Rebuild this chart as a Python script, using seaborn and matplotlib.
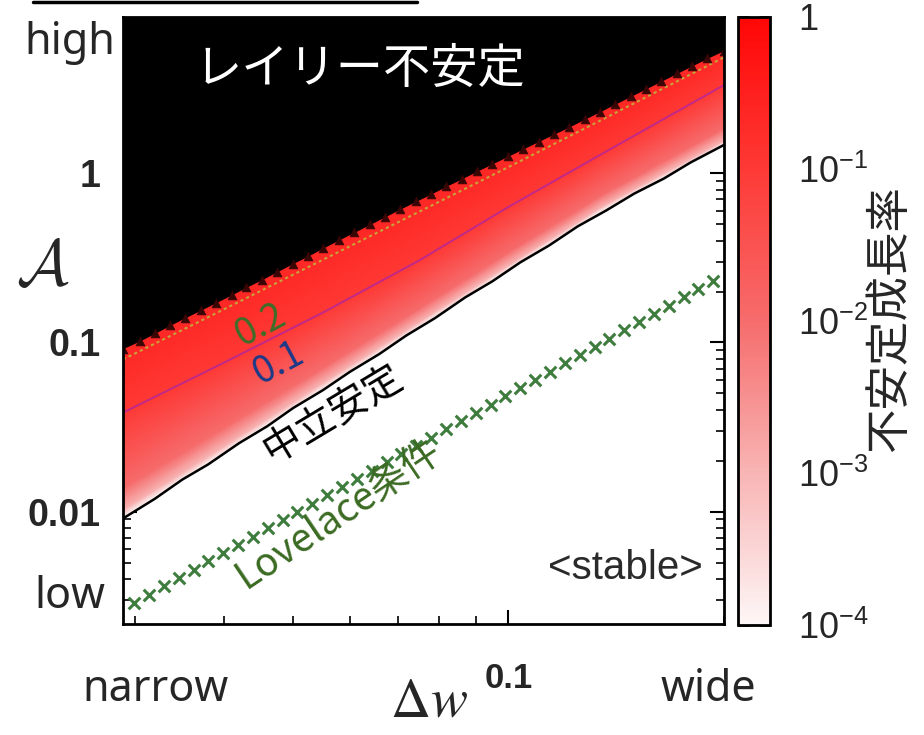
import numpy as np
import pandas as pd
import matplotlib
matplotlib.use("Agg")
import matplotlib.pyplot as plt
import seaborn as sns
from matplotlib.colors import LogNorm, LinearSegmentedColormap
from matplotlib.ticker import LogLocator, NullFormatter
from matplotlib.lines import Line2D

# ---------------- data ----------------
# Rayleigh-unstable boundary (triangles)
rayleigh_dw = [0.0289, 0.0305, 0.0320, 0.0336, 0.0353, 0.0371, 0.0390, 0.0410, 0.0430, 0.0452,
               0.0475, 0.0499, 0.0525, 0.0551, 0.0579, 0.0609, 0.0640, 0.0672, 0.0706, 0.0742,
               0.0780, 0.0819, 0.0861, 0.0904, 0.0950, 0.0998, 0.1049, 0.1102, 0.1158, 0.1217,
               0.1278, 0.1343, 0.1411, 0.1483, 0.1558, 0.1637, 0.1720, 0.1807, 0.1899, 0.2003]
rayleigh_A = [0.092, 0.102, 0.113, 0.126, 0.140, 0.155, 0.172, 0.191, 0.212, 0.235,
              0.262, 0.292, 0.325, 0.362, 0.403, 0.448, 0.498, 0.553, 0.614, 0.681,
              0.755, 0.838, 0.928, 1.028, 1.137, 1.258, 1.392, 1.540, 1.700, 1.880,
              2.082, 2.310, 2.563, 2.844, 3.155, 3.501, 3.885, 4.310, 4.782, 5.307]

# neutral stability line
neutral_dw = [0.029, 0.032, 0.035, 0.038, 0.042, 0.046, 0.050, 0.055, 0.060, 0.066, 0.072,
              0.079, 0.087, 0.095, 0.104, 0.114, 0.125, 0.137, 0.150, 0.165, 0.180, 0.200]
neutral_A = [0.0092, 0.0119, 0.0155, 0.0190, 0.0254, 0.0320, 0.0410, 0.0522, 0.0670, 0.0855, 0.1100,
             0.1395, 0.1845, 0.2300, 0.2980, 0.3740, 0.4850, 0.6020, 0.7580, 0.9300, 1.1600, 1.4650]

# Lovelace condition (crosses)
lovelace_dw = [0.02995, 0.03142, 0.03296, 0.03457, 0.03627, 0.03804, 0.03991, 0.04186, 0.04391, 0.04607,
               0.04832, 0.05069, 0.05318, 0.05578, 0.05852, 0.06139, 0.06439, 0.06755, 0.07086, 0.07433,
               0.07798, 0.08180, 0.08581, 0.09001, 0.09442, 0.09905, 0.1039, 0.1090, 0.1143, 0.1199,
               0.1258, 0.1320, 0.1385, 0.1452, 0.1524, 0.1598, 0.1677, 0.1759, 0.1845, 0.1936]
lovelace_A = [0.00290, 0.00324, 0.00363, 0.00406, 0.00454, 0.00508, 0.00568, 0.00636, 0.00711, 0.00796,
              0.00890, 0.00996, 0.01115, 0.01247, 0.01395, 0.01561, 0.01747, 0.01955, 0.02187, 0.02447,
              0.02738, 0.03064, 0.03428, 0.03836, 0.04292, 0.04802, 0.05373, 0.06012, 0.06727, 0.07527,
              0.08422, 0.09423, 0.1054, 0.1180, 0.1320, 0.1477, 0.1653, 0.1849, 0.2069, 0.2315]

# growth-rate field: A positions of growth-rate levels at several Δw columns
field_dw = [0.0289, 0.04, 0.055, 0.075, 0.1, 0.135, 0.2003]
field_levels = [1e-4, 1e-3, 1e-2, 0.1, 0.2, 0.25]
A_g1e4 = [0.0092, 0.0221, 0.0527, 0.122, 0.267, 0.593, 1.466]
A_g1e3 = [0.0102, 0.0243, 0.0575, 0.132, 0.286, 0.632, 1.56]
A_g1e2 = [0.0137, 0.0312, 0.0705, 0.158, 0.340, 0.740, 1.84]
A_g01 = [0.0385, 0.0760, 0.150, 0.305, 0.632, 1.297, 3.32]
A_g02 = [0.0794, 0.157, 0.308, 0.592, 1.087, 2.065, 4.84]
A_gtop = [0.12, 0.22, 0.42, 0.80, 1.5, 2.9, 7.0]

y_ticks = [0.01, 0.1, 1]
y_ticklabels = ["0.01", "0.1", "1"]
x_ticks = [0.1]
x_ticklabels = ["0.1"]
cbar_ticks = [1e-4, 1e-3, 1e-2, 1e-1, 1]
cbar_ticklabels = [r"$\mathregular{10^{-4}}$", r"$\mathregular{10^{-3}}$",
                   r"$\mathregular{10^{-2}}$", r"$\mathregular{10^{-1}}$", "1"]

# ---------------- style ----------------
sns.set_style("ticks")
plt.rcParams["font.family"] = ["Noto Sans", "Noto Sans CJK JP", "DejaVu Sans"]
plt.rcParams["mathtext.fontset"] = "custom"
plt.rcParams["mathtext.rm"] = "Liberation Sans"
plt.rcParams["mathtext.it"] = "Liberation Sans:italic"
plt.rcParams["mathtext.bf"] = "Liberation Sans:bold"

W, H = 924, 735
fig = plt.figure(figsize=(W / 100, H / 100), dpi=100)
fig.patch.set_facecolor("white")

def P(x, y):
    return (x / W, 1 - y / H)

ax_l, ax_r, ax_t, ax_b = 123, 724, 17, 624
ax = fig.add_axes([ax_l / W, 1 - ax_b / H, (ax_r - ax_l) / W, (ax_b - ax_t) / H])
ax.set_xscale("log")
ax.set_yscale("log")
xlim = (0.0289, 0.2003)
ylim = (0.00217, 8.38)
ax.set_xlim(*xlim)
ax.set_ylim(*ylim)
ax.set_facecolor("white")

cmap = LinearSegmentedColormap.from_list(
    "wr", [(0.0, "#fdf6f6"), (0.25, "#f8b4b4"), (0.5, "#f66c6c"),
           (0.75, "#fe3a36"), (1.0, "#ff0606")])
norm = LogNorm(vmin=1e-4, vmax=1)

# field mesh
X = np.array([field_dw] * len(field_levels))
Y = np.array([A_g1e4, A_g1e3, A_g1e2, A_g01, A_g02, A_gtop])
C = np.array([[lv] * len(field_dw) for lv in field_levels])
mesh = ax.pcolormesh(X, Y, C, shading="gouraud", cmap=cmap, norm=norm, zorder=1,
                     rasterized=True)

# Rayleigh unstable region (black)
ax.fill_between(rayleigh_dw, rayleigh_A, ylim[1] * 2, color="black", zorder=2, linewidth=0)

# contour lines
sns.lineplot(x=field_dw, y=A_g02, ax=ax, color="#c9a33a", lw=1.5, linestyle=(0, (1.5, 1.5)),
             sort=False, estimator=None, zorder=3)
sns.lineplot(x=field_dw, y=A_g01, ax=ax, color="#c0288a", lw=1.4,
             sort=False, estimator=None, zorder=3)
sns.lineplot(x=neutral_dw, y=neutral_A, ax=ax, color="black", lw=1.8,
             sort=False, estimator=None, zorder=3)

# triangles on Rayleigh boundary
sns.scatterplot(x=rayleigh_dw, y=rayleigh_A, ax=ax, marker="^", s=40, color="#3a0505",
                edgecolor="#3a0505", linewidth=0.5, zorder=4)
# Lovelace crosses
sns.scatterplot(x=lovelace_dw, y=lovelace_A, ax=ax, marker="x", s=70, color="#3f7d3f",
                linewidth=2.2, zorder=4)

# ticks
ax.set_yticks(y_ticks, labels=y_ticklabels, fontsize=27, fontfamily="Liberation Sans",
              fontweight="bold")
ax.set_xticks(x_ticks, labels=x_ticklabels, fontsize=25, fontfamily="Liberation Sans",
              fontweight="bold")
ax.xaxis.set_minor_locator(LogLocator(base=10, subs=np.arange(2, 10)))
ax.yaxis.set_minor_locator(LogLocator(base=10, subs=np.arange(2, 10)))
ax.xaxis.set_minor_formatter(NullFormatter())
ax.yaxis.set_minor_formatter(NullFormatter())
ax.tick_params(which="both", direction="in", top=True, right=True, color="black")
ax.tick_params(which="major", length=10, width=1.5)
ax.tick_params(which="minor", length=6, width=1.2)
ax.tick_params(axis="y", which="major", pad=16)
ax.tick_params(axis="x", which="major", pad=27)
for sp in ax.spines.values():
    sp.set_linewidth(2)
    sp.set_color("black")
    sp.set_zorder(5)
ax.set_xlabel("")
ax.set_ylabel("")

# colorbar
cb_l, cb_r, cb_t, cb_b = 738, 770, 17, 625
cax = fig.add_axes([cb_l / W, 1 - cb_b / H, (cb_r - cb_l) / W, (cb_b - cb_t) / H])
cbar = fig.colorbar(mesh, cax=cax)
cbar.set_ticks(cbar_ticks, labels=cbar_ticklabels)
cax.minorticks_off()
cax.tick_params(which="major", direction="in", left=True, right=True, length=8, width=2,
                color="#3a0a0a", labelsize=26, pad=20)
for lbl in cax.get_yticklabels():
    lbl.set_fontfamily("Liberation Sans")
cbar.outline.set_linewidth(2)
cbar.outline.set_edgecolor("black")

# ---------------- texts ----------------
jp = ["Noto Sans CJK JP", "DejaVu Sans"]
fig.text(*P(360, 70), "レイリー不安定", color="white", fontsize=34, family=jp,
         ha="center", va="center")
fig.text(*P(70, 43), "high", fontsize=31, ha="center", va="center", family=["Noto Sans"])
fig.text(*P(70, 597), "low", fontsize=31, ha="center", va="center", family=["Noto Sans"])
fig.text(*P(155, 690), "narrow", fontsize=31, ha="center", va="center", family=["Noto Sans"])
fig.text(*P(708, 690), "wide", fontsize=31, ha="center", va="center", family=["Noto Sans"])
fig.text(*P(43, 268), r"$\mathcal{A}$", fontsize=46, ha="center", va="center",
         math_fontfamily="cm")
fig.text(*P(429, 702), r"$\Delta w$", fontsize=40, ha="center", va="center",
         math_fontfamily="stix")
fig.text(*P(889, 318), "不安定成長率", fontsize=32, rotation=90, ha="center", va="center",
         family=jp)
fig.text(*P(260, 325), "0.2", fontsize=27, rotation=28, color="#3c6e28", ha="center",
         va="center", family=jp, rotation_mode="anchor")
fig.text(*P(278, 363), "0.1", fontsize=27, rotation=28, color="#1b3a88", ha="center",
         va="center", family=jp, rotation_mode="anchor")
fig.text(*P(332, 413), "中立安定", fontsize=28, rotation=31, color="black", ha="center",
         va="center", family=jp, rotation_mode="anchor")
fig.text(*P(338, 514), "Lovelace条件", fontsize=28, rotation=34, color="#3b6a22",
         ha="center", va="center", family=jp, rotation_mode="anchor")
fig.text(*P(625, 568), "<stable>", fontsize=29, ha="center", va="center",
         family=["Liberation Sans"], color="#2a2a2a")

# top decorative line
fig.add_artist(Line2D([33 / W, 417 / W], [1 - 1.5 / H, 1 - 1.5 / H], color="black", lw=2.5))

fig.savefig("out.png", dpi=100)
